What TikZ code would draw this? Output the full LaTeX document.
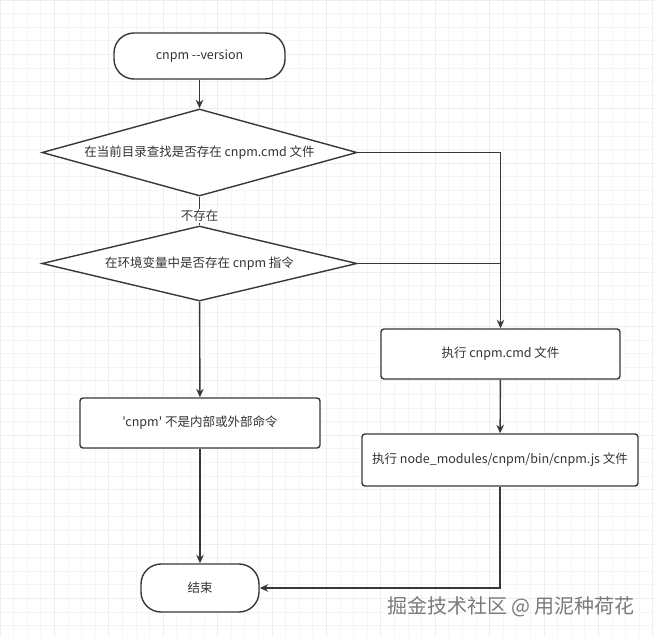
\documentclass[tikz,border=0pt]{standalone}
\usepackage{fontspec}
\newfontfamily\cjk{Noto Sans CJK SC}
\definecolor{LINE}{HTML}{383838}
\definecolor{TEXT}{HTML}{333333}
\definecolor{GRID}{HTML}{F5F5F5}
\definecolor{MAJOR}{HTML}{EEEEEE}
\definecolor{MARK}{HTML}{7A7A7A}
\usetikzlibrary{arrows.meta,shapes.geometric,positioning,calc}

\begin{document}
\begin{tikzpicture}
[x=1pt, y=-1pt, font=\cjk\fontsize{12.5}{15}\selectfont, text=TEXT,
term/.style ={rectangle, draw=LINE, line width=1.4pt, rounded corners=20pt,
fill=white, minimum width=171pt, minimum height=46pt},
block/.style ={rectangle, draw=LINE, line width=1.4pt, rounded corners=3pt,
fill=white, minimum height=50pt},
test/.style ={diamond, draw=LINE, line width=1.4pt, inner sep=0pt,
fill=white, minimum width=315pt},
dline/.style={line width=1.4pt, LINE},
dedge/.style={dline, -{Stealth[length=8.5pt,width=7.5pt]}}]
\useasboundingbox (0,0) rectangle (655,637);
\fill[white] (0,0) rectangle (655,637);
\draw[GRID, line width=0.8pt, step=13.6pt] (0,0) grid (655,637);
\draw[MAJOR, line width=0.8pt, step=54.4pt] (0,0) grid (655,637);

\node[term] (V) at (199.5,56) {cnpm --version};
\node[test, minimum height=87pt, aspect=3.6] (D1) at (199.5,152.5) 
{在当前目录查找是否存在 cnpm.cmd 文件};
\node[test, minimum height=75pt, aspect=4.2] (D2) at (199.5,263.5) 
{在环境变量中是否存在 cnpm 指令};
\node[block, minimum width=240pt] (M) at (200,423) {'cnpm' 不是内部或外部命令};
\node[block, minimum width=239pt] (C) at (500.5,354) {执行 cnpm.cmd 文件};
\node[block, minimum width=276pt, minimum height=52pt] (J) at (500,460) 
{执行 node\_modules/cnpm/bin/cnpm.js 文件};
\node[term, minimum width=118pt, minimum height=48pt] (End) at (200,588) {结束};
\node[font=\cjk\fontsize{20}{24}\selectfont, text=MARK] (W) at (511,607) 
{掘金技术社区 @ 用泥种荷花};

\draw[dedge] (V) -- (D1);
\draw[dline] (D1) -- (D2) node[pos=0.67, fill=white, inner sep=1pt] {不存在};
\draw[dedge] (D1.east) -| (C.north);
\draw[dline] (D2.east) -- (D2.east -| C.north);
\draw[dedge] (D2) -- (M);
\draw[dedge] (C) -- (J);
\draw[dedge] (M) -- (End);
\draw[dedge] (J) |- (End);

\end{tikzpicture}
\end{document}
